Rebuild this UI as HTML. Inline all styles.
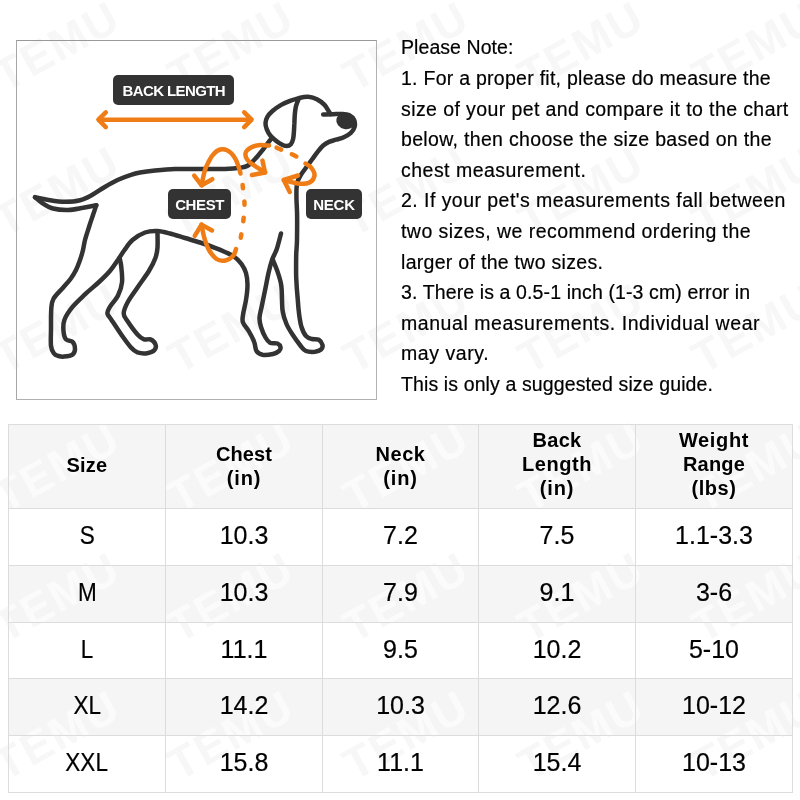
<!DOCTYPE html>
<html lang="en">
<head>
<meta charset="utf-8">
<title>Pet Size Guide</title>
<style>
*{box-sizing:border-box;margin:0;padding:0}
html,body{width:800px;height:800px;background:#fff;overflow:hidden}
body{position:relative;font-family:"Liberation Sans",sans-serif;color:#000}
.wm{position:absolute;left:0;top:0;width:800px;height:800px;overflow:hidden;z-index:0;pointer-events:none}
.wm span,.band span{position:absolute;font-weight:bold;font-size:45px;line-height:45px;color:#f7f7f7;transform:translate(-50%,-50%) rotate(-29deg);white-space:nowrap;letter-spacing:2px}
.band{position:absolute;left:8px;width:784px;background:#f5f5f5;overflow:hidden;z-index:1}
.band span{color:#fbfbfb}
.pic{position:absolute;left:16px;top:40px;width:361px;height:360px;border:1px solid #a6a6a6;border-top-color:#999;border-right-color:#b2b2b2;border-bottom-color:#b0b0b0;z-index:1}
.dog{position:absolute;left:0;top:0;z-index:2}
.tag{position:absolute;z-index:3;background:#333;color:#fff;border-radius:5px;font-weight:bold;font-size:15px;text-align:center;white-space:nowrap}
.note{position:absolute;left:401px;top:32.39px;z-index:3;font-size:19.5px;line-height:30.6px;color:#000;-webkit-text-stroke:.2px #000;white-space:nowrap}
.note span{display:block}
table{position:absolute;left:8px;top:424px;width:784px;border-collapse:collapse;z-index:2;table-layout:fixed}
td,th{border:1px solid #dcdcdc;text-align:center;vertical-align:middle;padding:0}
th{height:84px;font-weight:bold;font-size:20px;line-height:23.8px;color:#000}
th:nth-child(n+4){padding-bottom:3px}
th:first-child{padding-bottom:1px}
td{height:57px;font-size:25px;color:#000;-webkit-text-stroke:.2px #000;padding-bottom:3px}
td i{font-style:normal;display:inline-block;transform:scaleX(.9)}
tr.r56 td{height:56px}
</style>
</head>
<body>
<div class="wm">
<span style="left:57px;top:46px">TEMU</span>
<span style="left:231px;top:46px">TEMU</span>
<span style="left:406px;top:46px">TEMU</span>
<span style="left:581px;top:46px">TEMU</span>
<span style="left:755px;top:46px">TEMU</span>
<span style="left:57px;top:191px">TEMU</span>
<span style="left:231px;top:191px">TEMU</span>
<span style="left:406px;top:191px">TEMU</span>
<span style="left:581px;top:191px">TEMU</span>
<span style="left:755px;top:191px">TEMU</span>
<span style="left:57px;top:328px">TEMU</span>
<span style="left:231px;top:328px">TEMU</span>
<span style="left:406px;top:328px">TEMU</span>
<span style="left:581px;top:328px">TEMU</span>
<span style="left:755px;top:328px">TEMU</span>
<span style="left:57px;top:467px">TEMU</span>
<span style="left:231px;top:467px">TEMU</span>
<span style="left:406px;top:467px">TEMU</span>
<span style="left:581px;top:467px">TEMU</span>
<span style="left:755px;top:467px">TEMU</span>
<span style="left:57px;top:597px">TEMU</span>
<span style="left:231px;top:597px">TEMU</span>
<span style="left:406px;top:597px">TEMU</span>
<span style="left:581px;top:597px">TEMU</span>
<span style="left:755px;top:597px">TEMU</span>
<span style="left:57px;top:735px">TEMU</span>
<span style="left:231px;top:735px">TEMU</span>
<span style="left:406px;top:735px">TEMU</span>
<span style="left:581px;top:735px">TEMU</span>
<span style="left:755px;top:735px">TEMU</span>
</div>
<div class="band" style="top:424px;height:85px">
<span style="left:49px;top:43px">TEMU</span>
<span style="left:223px;top:43px">TEMU</span>
<span style="left:398px;top:43px">TEMU</span>
<span style="left:573px;top:43px">TEMU</span>
<span style="left:747px;top:43px">TEMU</span>
</div>
<div class="band" style="top:565px;height:58px">
<span style="left:49px;top:32px">TEMU</span>
<span style="left:223px;top:32px">TEMU</span>
<span style="left:398px;top:32px">TEMU</span>
<span style="left:573px;top:32px">TEMU</span>
<span style="left:747px;top:32px">TEMU</span>
</div>
<div class="band" style="top:678px;height:58px">
<span style="left:49px;top:57px">TEMU</span>
<span style="left:223px;top:57px">TEMU</span>
<span style="left:398px;top:57px">TEMU</span>
<span style="left:573px;top:57px">TEMU</span>
<span style="left:747px;top:57px">TEMU</span>
</div>
<div class="pic"></div>
<svg class="dog" width="800" height="420" viewBox="0 0 800 420">
<g fill="none" stroke="#333" stroke-width="4.5" stroke-linecap="round" stroke-linejoin="round">
<path d="M271.6 138.1C270.2 139.9 266.2 145.4 263.5 148.8C260.8 152.2 258.1 155.7 255.5 158.5C252.9 161.3 250.6 163.9 248.0 165.5C245.4 167.1 243.8 167.2 240.0 167.8C236.2 168.4 231.7 168.8 225.0 169.0C218.3 169.2 208.3 169.0 200.0 169.0C191.7 169.0 182.5 168.8 175.0 169.0C167.5 169.2 160.8 169.9 155.0 170.5C149.2 171.1 144.0 171.8 140.0 172.5C136.0 173.2 134.8 173.5 131.0 174.8C127.2 176.0 122.0 177.9 117.5 180.0C113.0 182.1 108.2 185.0 104.0 187.5C99.8 190.0 96.0 192.9 92.0 195.0C88.0 197.1 84.5 199.1 80.0 200.2C75.5 201.4 70.0 201.8 65.0 201.8C60.0 201.8 55.0 201.0 50.0 200.2C45.0 199.5 37.5 197.8 35.0 197.2"/>
<path d="M35.0 197.2C36.2 198.2 39.5 201.4 42.5 203.2C45.5 205.1 48.8 207.4 53.0 208.5C57.2 209.6 63.0 210.1 68.0 210.0C73.0 209.9 78.3 208.6 83.0 207.8C87.7 206.9 94.1 205.6 96.3 205.2"/>
<path d="M96.3 205.2C95.8 206.8 94.2 211.4 93.0 215.0C91.8 218.6 90.3 222.8 89.0 227.0C87.7 231.2 86.0 236.2 85.0 240.0C84.0 243.8 83.8 246.7 83.0 250.0C82.2 253.3 81.2 256.7 80.0 260.0C78.8 263.3 77.6 266.8 76.0 270.0C74.4 273.2 72.7 276.0 70.5 279.0C68.3 282.0 65.6 284.7 62.8 288.0C59.9 291.3 55.4 295.3 53.5 298.8C51.6 302.2 51.7 303.6 51.3 308.5C50.9 313.4 51.0 321.8 51.0 328.0C51.0 334.2 50.5 341.8 51.0 346.0C51.5 350.2 52.8 351.8 54.0 353.5C55.2 355.2 56.8 355.5 58.5 356.0C60.2 356.5 61.7 356.8 64.0 356.6C66.3 356.4 70.7 355.9 72.5 354.6C74.3 353.3 75.0 351.1 75.0 349.0C75.0 346.9 74.0 343.4 72.5 341.8C71.0 340.2 67.5 341.2 66.0 339.4C64.5 337.6 63.8 334.5 63.5 331.2C63.2 328.0 62.9 324.0 64.4 319.9C65.9 315.8 69.0 311.2 72.5 306.9C76.0 302.6 81.2 298.0 85.5 293.9C89.8 289.8 94.4 286.3 98.5 282.5C102.6 278.7 106.7 274.8 109.9 271.0C113.2 267.2 115.6 263.2 118.0 259.8C120.4 256.2 122.1 253.3 124.5 250.0C126.9 246.7 129.1 242.9 132.5 240.0C135.9 237.1 140.8 234.0 145.0 232.5C149.2 231.0 153.3 230.8 157.5 231.0C161.7 231.2 165.4 232.3 170.0 233.5C174.6 234.7 180.0 236.5 185.0 238.0C190.0 239.5 195.0 240.9 200.0 242.5C205.0 244.1 210.8 246.2 215.0 247.8C219.2 249.3 221.8 250.5 225.0 252.0C228.2 253.5 231.2 254.5 234.0 256.5C236.8 258.5 239.5 261.2 241.5 264.0C243.5 266.8 245.0 269.5 246.0 273.0C247.0 276.5 247.5 280.5 247.5 285.0C247.5 289.5 246.8 295.0 246.0 300.0C245.2 305.0 243.5 311.2 243.0 315.0C242.5 318.8 242.0 319.8 243.0 322.5C244.0 325.2 247.1 328.2 249.0 331.5C250.9 334.8 253.0 338.8 254.2 342.0C255.5 345.2 255.1 348.9 256.5 351.0C257.9 353.1 259.8 354.2 262.5 354.8C265.2 355.2 270.2 354.6 273.0 354.0C275.8 353.4 277.8 352.1 279.0 351.0C280.2 349.9 280.8 348.5 280.5 347.2C280.2 346.0 279.2 344.2 277.5 343.5C275.8 342.8 272.0 343.8 270.0 342.8C268.0 341.8 267.0 340.1 265.5 337.5C264.0 334.9 262.0 330.2 261.0 327.0C260.0 323.8 259.4 321.5 259.5 318.0C259.6 314.5 260.8 311.0 261.8 306.0C262.8 301.0 264.4 293.5 265.5 288.0C266.6 282.5 267.4 277.8 268.5 273.0C269.6 268.2 270.9 263.5 272.2 259.5C273.6 255.5 275.3 253.3 276.8 249.0C278.2 244.7 280.3 236.1 281.0 233.5"/>
<path d="M119.6 258.0C119.9 259.4 120.8 262.2 121.2 266.2C121.7 270.3 122.5 277.6 122.0 282.5C121.5 287.4 120.0 291.4 118.0 295.5C116.0 299.6 111.7 303.9 109.9 306.9C108.1 309.9 107.1 311.2 107.4 313.4C107.7 315.6 109.2 316.4 111.5 319.9C113.8 323.4 118.0 329.9 121.2 334.5C124.5 339.1 128.3 344.5 131.0 347.5C133.7 350.5 134.8 351.4 137.5 352.4C140.2 353.3 144.4 353.6 147.2 353.2C150.1 352.8 153.1 351.5 154.5 350.0C155.9 348.5 156.1 346.0 155.4 344.2C154.7 342.5 152.4 340.2 150.5 339.4C148.6 338.6 146.2 340.2 144.0 339.4C141.8 338.6 140.2 337.5 137.5 334.5C134.8 331.5 130.1 325.0 127.8 321.5C125.5 318.0 123.7 316.6 123.7 313.4C123.7 310.1 125.5 306.3 127.8 302.0C130.1 297.7 134.0 292.6 137.5 287.4C141.0 282.2 145.9 275.9 148.9 271.0C151.9 266.1 154.0 261.9 155.4 258.0C156.8 254.1 157.2 251.8 157.5 247.5C157.8 243.2 157.5 235.0 157.5 232.5"/>
<path d="M273.0 260.2C273.8 262.1 276.1 267.4 277.5 271.5C278.9 275.6 280.5 280.2 281.2 285.0C282.0 289.8 281.8 295.5 282.0 300.0C282.2 304.5 282.0 308.0 282.8 312.0C283.5 316.0 284.9 320.2 286.5 324.0C288.1 327.8 290.2 331.0 292.5 334.5C294.8 338.0 297.8 342.2 300.0 345.0C302.2 347.8 303.5 349.9 306.0 351.0C308.5 352.1 312.5 352.0 315.0 351.8C317.5 351.5 319.8 350.6 321.0 349.5C322.2 348.4 322.9 346.6 322.5 345.0C322.1 343.4 320.5 340.8 318.8 339.8C317.0 338.8 314.1 339.6 312.0 339.0C309.9 338.4 307.8 338.0 306.0 336.0C304.2 334.0 302.6 330.5 301.5 327.0C300.4 323.5 299.9 319.5 299.2 315.0C298.6 310.5 298.2 306.2 297.8 300.0C297.2 293.8 296.5 285.0 296.2 277.5C296.0 270.0 296.1 261.2 296.2 255.0C296.4 248.8 296.9 246.7 297.0 240.0C297.1 233.3 297.2 221.7 297.1 215.0C297.0 208.3 296.6 204.3 296.5 200.0C296.4 195.7 296.4 192.0 296.5 189.0C296.6 186.0 296.8 184.2 297.4 182.0C298.0 179.8 298.9 178.2 300.2 176.0C301.5 173.8 303.4 171.2 305.4 168.5C307.4 165.8 309.9 162.4 312.0 159.5C314.1 156.6 316.1 153.7 318.0 151.3C319.9 148.9 321.7 146.9 323.5 145.3C325.3 143.7 326.9 142.8 329.0 141.9C331.1 141.0 333.5 140.5 336.0 139.7C338.5 138.9 341.3 138.4 343.8 137.2C346.2 136.1 348.9 134.7 350.8 132.9C352.6 131.2 354.0 128.9 354.6 126.8C355.2 124.6 355.0 121.9 354.1 119.9C353.2 117.9 351.0 116.0 349.0 115.0C347.0 114.0 344.7 114.0 342.0 113.9C339.3 113.8 336.1 114.1 333.0 114.2C329.9 114.3 324.8 114.5 323.2 114.5"/>
<path d="M330.3 114.2C330.1 113.8 329.9 113.0 328.9 111.5C327.9 110.0 326.4 106.9 324.5 104.9C322.6 102.9 320.2 100.9 317.5 99.6C314.8 98.2 311.6 97.0 308.5 96.8C305.4 96.5 301.8 97.4 298.8 98.1C295.7 98.8 292.9 99.8 290.0 100.9C287.1 102.0 284.2 103.2 281.2 104.9C278.3 106.6 274.8 109.0 272.5 111.0C270.2 113.0 268.4 115.1 267.2 117.1C266.1 119.1 265.6 121.2 265.5 123.2C265.4 125.3 266.0 127.4 266.8 129.4C267.6 131.4 268.9 133.8 270.3 135.5C271.7 137.2 273.3 138.4 275.1 139.9C276.9 141.4 279.4 143.2 281.2 144.2C283.1 145.3 284.9 146.0 286.5 146.0C288.1 146.0 289.8 145.4 290.9 144.2C292.0 143.1 292.6 141.0 293.1 139.0C293.6 137.0 293.7 134.6 293.9 132.0C294.1 129.4 294.2 126.2 294.4 123.2C294.5 120.3 294.6 117.1 294.8 114.5C295.0 111.9 295.3 109.6 295.7 107.5C296.1 105.4 296.8 103.6 297.4 102.0C298.0 100.4 298.9 98.7 299.2 98.0"/>
</g>
<ellipse cx="345.8" cy="121.3" rx="9.6" ry="7.8" fill="#333" transform="rotate(12 345.8 121.3)"/>
<g fill="none" stroke="#ef7c14" stroke-width="4.5" stroke-linecap="round" stroke-linejoin="round">
<path d="M99 119.7H251"/>
<path d="M105.8 112.3L98.4 119.7L105.8 127.1"/>
<path d="M244.2 112.3L251.6 119.7L244.2 127.1"/>
<path d="M240.5 173.5C240.2 172.6 239.8 170.2 239.0 168.0C238.2 165.8 237.2 162.3 236.0 160.0C234.8 157.7 233.5 155.6 232.0 154.0C230.5 152.4 228.7 151.0 227.0 150.2C225.3 149.4 223.7 149.2 222.0 149.3C220.3 149.4 218.7 149.9 217.0 151.0C215.3 152.1 213.5 154.0 212.0 156.0C210.5 158.0 209.2 160.7 208.0 163.0C206.8 165.3 205.8 167.5 205.0 170.0C204.2 172.5 203.6 175.4 203.0 178.0C202.4 180.6 201.9 184.1 201.7 185.3"/>
<path d="M194.2 175.6L201.7 185.3L212.3 179.2"/>
<path d="M236.0 249.2C235.5 250.4 234.8 254.1 233.0 256.0C231.2 257.9 228.2 260.0 225.5 260.5C222.8 261.0 219.2 260.8 216.5 259.0C213.8 257.2 211.0 253.4 209.0 250.0C207.0 246.6 205.8 242.7 204.5 238.5C203.2 234.3 202.0 226.9 201.5 224.6"/>
<path d="M194.75 235.8L201.5 224.6L212 230.5"/>
<path d="M269.0 145.6C267.5 145.5 263.0 144.7 260.0 145.0C257.0 145.3 253.4 146.2 251.0 147.5C248.6 148.8 246.2 150.9 245.6 153.0C245.0 155.1 245.9 157.8 247.5 160.0C249.1 162.2 252.1 163.9 255.0 166.0C257.9 168.1 263.3 171.4 265.0 172.5"/>
<path d="M262.5 160.6L265 172.5L252 175"/>
<path d="M305.5 163.5C306.5 164.2 310.0 166.0 311.5 168.0C313.0 170.0 314.8 173.1 314.5 175.5C314.2 177.9 312.5 180.9 310.0 182.2C307.5 183.6 303.0 183.9 299.5 183.8C296.0 183.6 291.6 182.1 289.0 181.5C286.4 180.9 284.6 180.2 283.8 180.0"/>
<path d="M298 175.5L283.75 180L289.75 192"/>
<path d="M242.3 183.0C242.5 184.2 242.8 186.3 243.2 190.0C243.6 193.7 244.5 199.7 244.5 205.0C244.5 210.3 243.9 216.1 243.2 222.0C242.5 227.9 240.8 237.4 240.3 240.5" stroke-dasharray="3.4 13.1" stroke-dashoffset="-2.05"/>
<path d="M274.7 146.9C276.1 147.5 280.4 149.3 283.0 150.4C285.6 151.5 287.4 152.2 290.0 153.4C292.6 154.6 297.1 156.8 298.5 157.5" stroke-dasharray="4.8 11.9" stroke-dashoffset="-2.1"/>
</g>
</svg>
<div class="tag" style="left:113.2px;top:75px;width:121.2px;height:29.6px;line-height:31.4px;letter-spacing:-.6px">BACK LENGTH</div>
<div class="tag" style="left:168px;top:189.2px;width:63.2px;height:30px;line-height:32px;letter-spacing:-.4px">CHEST</div>
<div class="tag" style="left:306.2px;top:189.2px;width:55.6px;height:30px;line-height:32px;letter-spacing:-.25px">NECK</div>
<div class="note">
<span style="letter-spacing:0.069px">Please Note:</span>
<span style="letter-spacing:0.265px">1. For a proper fit, please do measure the</span>
<span style="letter-spacing:0.409px">size of your pet and compare it to the chart</span>
<span style="letter-spacing:0.328px">below, then choose the size based on the</span>
<span style="letter-spacing:0.48px">chest measurement.</span>
<span style="letter-spacing:0.455px">2. If your pet's measurements fall between</span>
<span style="letter-spacing:0.451px">two sizes, we recommend ordering the</span>
<span style="letter-spacing:0.296px">larger of the two sizes.</span>
<span style="letter-spacing:0.116px">3. There is a 0.5-1 inch (1-3 cm) error in</span>
<span style="letter-spacing:0.551px">manual measurements. Individual wear</span>
<span style="letter-spacing:0.56px">may vary.</span>
<span style="letter-spacing:0.117px">This is only a suggested size guide.</span>
</div>
<table>
<colgroup><col style="width:157px"><col style="width:157px"><col style="width:156px"><col style="width:157px"><col style="width:157px"></colgroup>
<tr><th><span style="letter-spacing:0.2px">Size</span></th><th><span style="letter-spacing:0.12px">Chest</span><br><span style="letter-spacing:0.85px">(in)</span></th><th><span style="letter-spacing:0.52px">Neck</span><br><span style="letter-spacing:0.85px">(in)</span></th><th><span style="letter-spacing:0.25px">Back</span><br><span style="letter-spacing:0.53px">Length</span><br><span style="letter-spacing:0.85px">(in)</span></th><th><span style="letter-spacing:0.65px">Weight</span><br><span style="letter-spacing:0.22px">Range</span><br><span style="letter-spacing:0.52px">(lbs)</span></th></tr>
<tr><td><i>S</i></td><td>10.3</td><td>7.2</td><td>7.5</td><td>1.1-3.3</td></tr>
<tr><td><i>M</i></td><td>10.3</td><td>7.9</td><td>9.1</td><td>3-6</td></tr>
<tr class="r56"><td><i>L</i></td><td>11.1</td><td>9.5</td><td>10.2</td><td>5-10</td></tr>
<tr><td><i>XL</i></td><td>14.2</td><td>10.3</td><td>12.6</td><td>10-12</td></tr>
<tr><td><i>XXL</i></td><td>15.8</td><td>11.1</td><td>15.4</td><td>10-13</td></tr>
</table>
</body>
</html>
